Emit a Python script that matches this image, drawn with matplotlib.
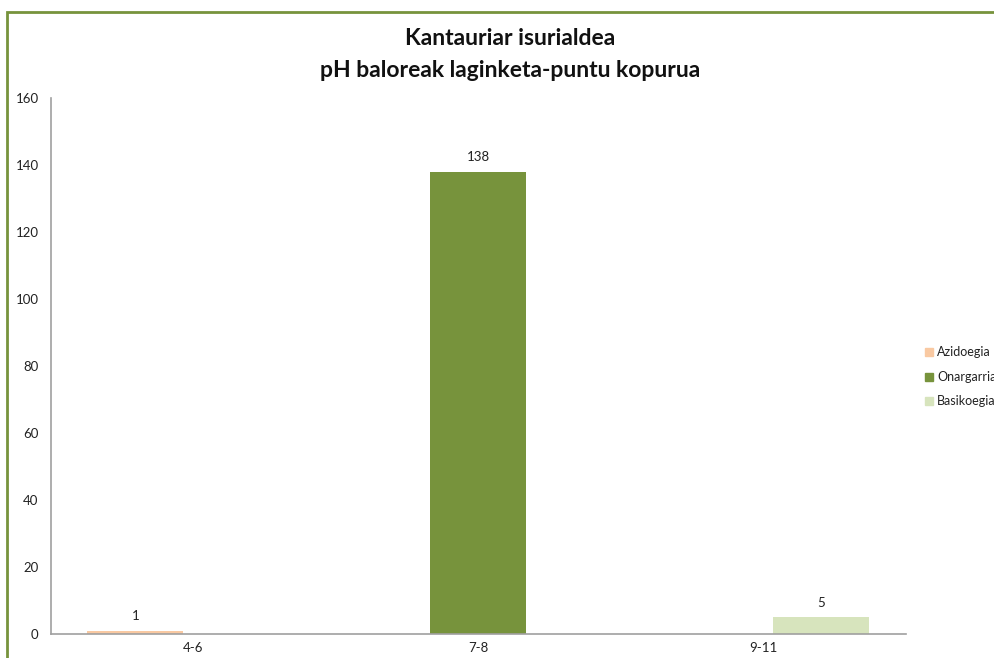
import matplotlib
import matplotlib.pyplot as plt
from matplotlib.patches import Rectangle
import numpy as np

matplotlib.use("Agg")

plt.rcParams.update({
    "font.family": ["Lato", "DejaVu Sans"],
    "font.size": 9,
})

categories = ["4-6", "7-8", "9-11"]
series_names = ["Azidoegia", "Onargarria", "Basikoegia"]
azidoegia = [1, 0, 0]
onargarria = [0, 138, 0]
basikoegia = [0, 0, 5]
series_values = [azidoegia, onargarria, basikoegia]
colors = ["#F9C9A2", "#77933C", "#D7E4BD"]
yticks = [0, 20, 40, 60, 80, 100, 120, 140, 160]

fig = plt.figure(figsize=(9.94, 6.58), dpi=100)
ax = fig.add_axes([0.0513, 0.0365, 0.860, 0.8145])

x = np.arange(len(categories))
width = 0.337
step = 0.2035  # Excel-style overlapping series
for i, (name, vals, col) in enumerate(zip(series_names, series_values, colors)):
    bars = ax.bar(x + (i - 1) * step, vals, width, color=col, label=name)
    labels = [str(v) if v else "" for v in vals]
    ax.bar_label(bars, labels=labels, padding=6, fontsize=9.5, color="#222222")

ax.set_xlim(-0.5, len(categories) - 0.5)
ax.set_ylim(0, 160)
ax.set_yticks(yticks)
ax.set_xticks(x)
ax.set_xticklabels(categories)
ax.tick_params(axis="both", length=0, colors="#222222", labelsize=9.5)
ax.tick_params(axis="y", pad=9)
ax.tick_params(axis="x", pad=6)
for side in ["top", "right"]:
    ax.spines[side].set_visible(False)
for side in ["left", "bottom"]:
    ax.spines[side].set_color("#A0A0A0")
    ax.spines[side].set_linewidth(1.2)

fig.text(0.513, 0.942, "Kantauriar isurialdea", ha="center", va="center",
         fontsize=16.5, fontweight="bold", color="#111111")
fig.text(0.513, 0.893, "pH baloreak laginketa-puntu kopurua", ha="center", va="center",
         fontsize=16.5, fontweight="bold", color="#111111")

# legend, sitting at the right edge like the original
leg_y = [352, 377, 401]
for name, col, yy in zip(series_names, colors, leg_y):
    fy = 1 - yy / 658
    fig.patches.append(Rectangle((925 / 994, fy - 4 / 658), 8 / 994, 8 / 658,
                                 transform=fig.transFigure, color=col))
    fig.text(937 / 994, fy, name, ha="left", va="center", fontsize=9, color="#222222")

# green chart border
fig.patches.append(Rectangle((7 / 994, -0.05), 1.1, 1 - 12 / 658 + 0.05,
                             transform=fig.transFigure, fill=False,
                             edgecolor="#77933C", linewidth=2))

fig.savefig("out.png", dpi=100)
